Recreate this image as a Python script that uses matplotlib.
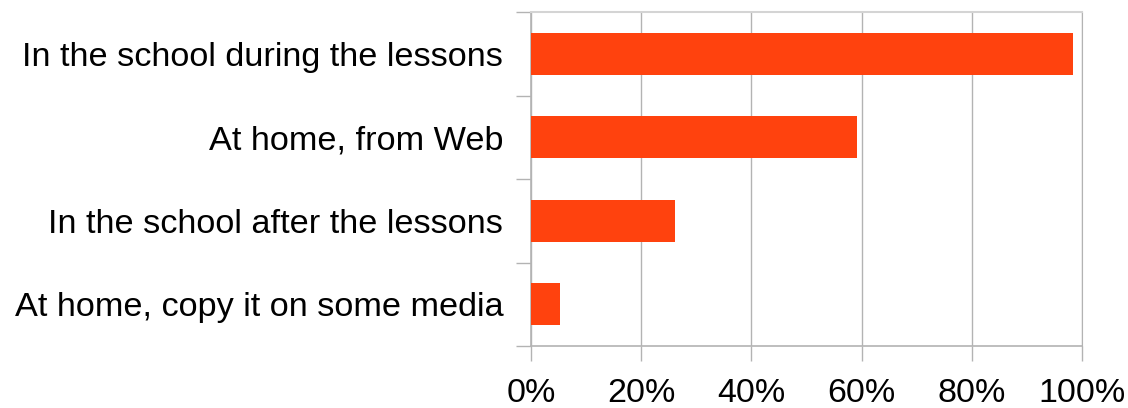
import matplotlib.pyplot as plt
import numpy as np
from matplotlib.ticker import FixedLocator

categories = [
    "In the school during the lessons",
    "At home, from Web",
    "In the school after the lessons",
    "At home, copy it on some media",
]
values = [98.4, 59.2, 26.1, 5.3]
xticks = [0, 20, 40, 60, 80, 100]
xtick_labels = ["0%", "20%", "40%", "60%", "80%", "100%"]

plt.rcParams["font.family"] = ["Liberation Sans", "DejaVu Sans"]

fig = plt.figure(figsize=(11.28, 4.08), dpi=100)
ax = fig.add_axes([531 / 1128, 1 - 346 / 408, 551 / 1128, 334 / 408])

y = np.arange(len(categories))[::-1]
ax.barh(y, values, height=0.5, color="#ff420e", zorder=3)

ax.set_xlim(0, 100)
ax.set_ylim(-0.5, len(categories) - 0.5)

ax.set_xticks(xticks)
ax.set_xticklabels(xtick_labels, fontsize=24.5)
ax.set_yticks(y)
ax.set_yticklabels(categories, fontsize=24.7)
ax.yaxis.set_minor_locator(FixedLocator(np.arange(-0.5, len(categories), 1.0)))

ax.tick_params(axis="y", which="major", length=0, pad=20)
ax.tick_params(axis="y", which="minor", length=10.8, color="#b3b3b3", width=1)
ax.tick_params(axis="x", length=10.8, color="#b3b3b3", width=1, pad=12)

ax.grid(axis="x", color="#b3b3b3", linewidth=1, zorder=0)
ax.set_axisbelow(True)

for side in ["left", "bottom"]:
    ax.spines[side].set_color("#b3b3b3")
    ax.spines[side].set_linewidth(1.2)
ax.spines["top"].set_color("#d4d4d4")
ax.spines["top"].set_linewidth(1.5)
ax.spines["right"].set_color("#b3b3b3")

fig.savefig("out.png", dpi=100)
